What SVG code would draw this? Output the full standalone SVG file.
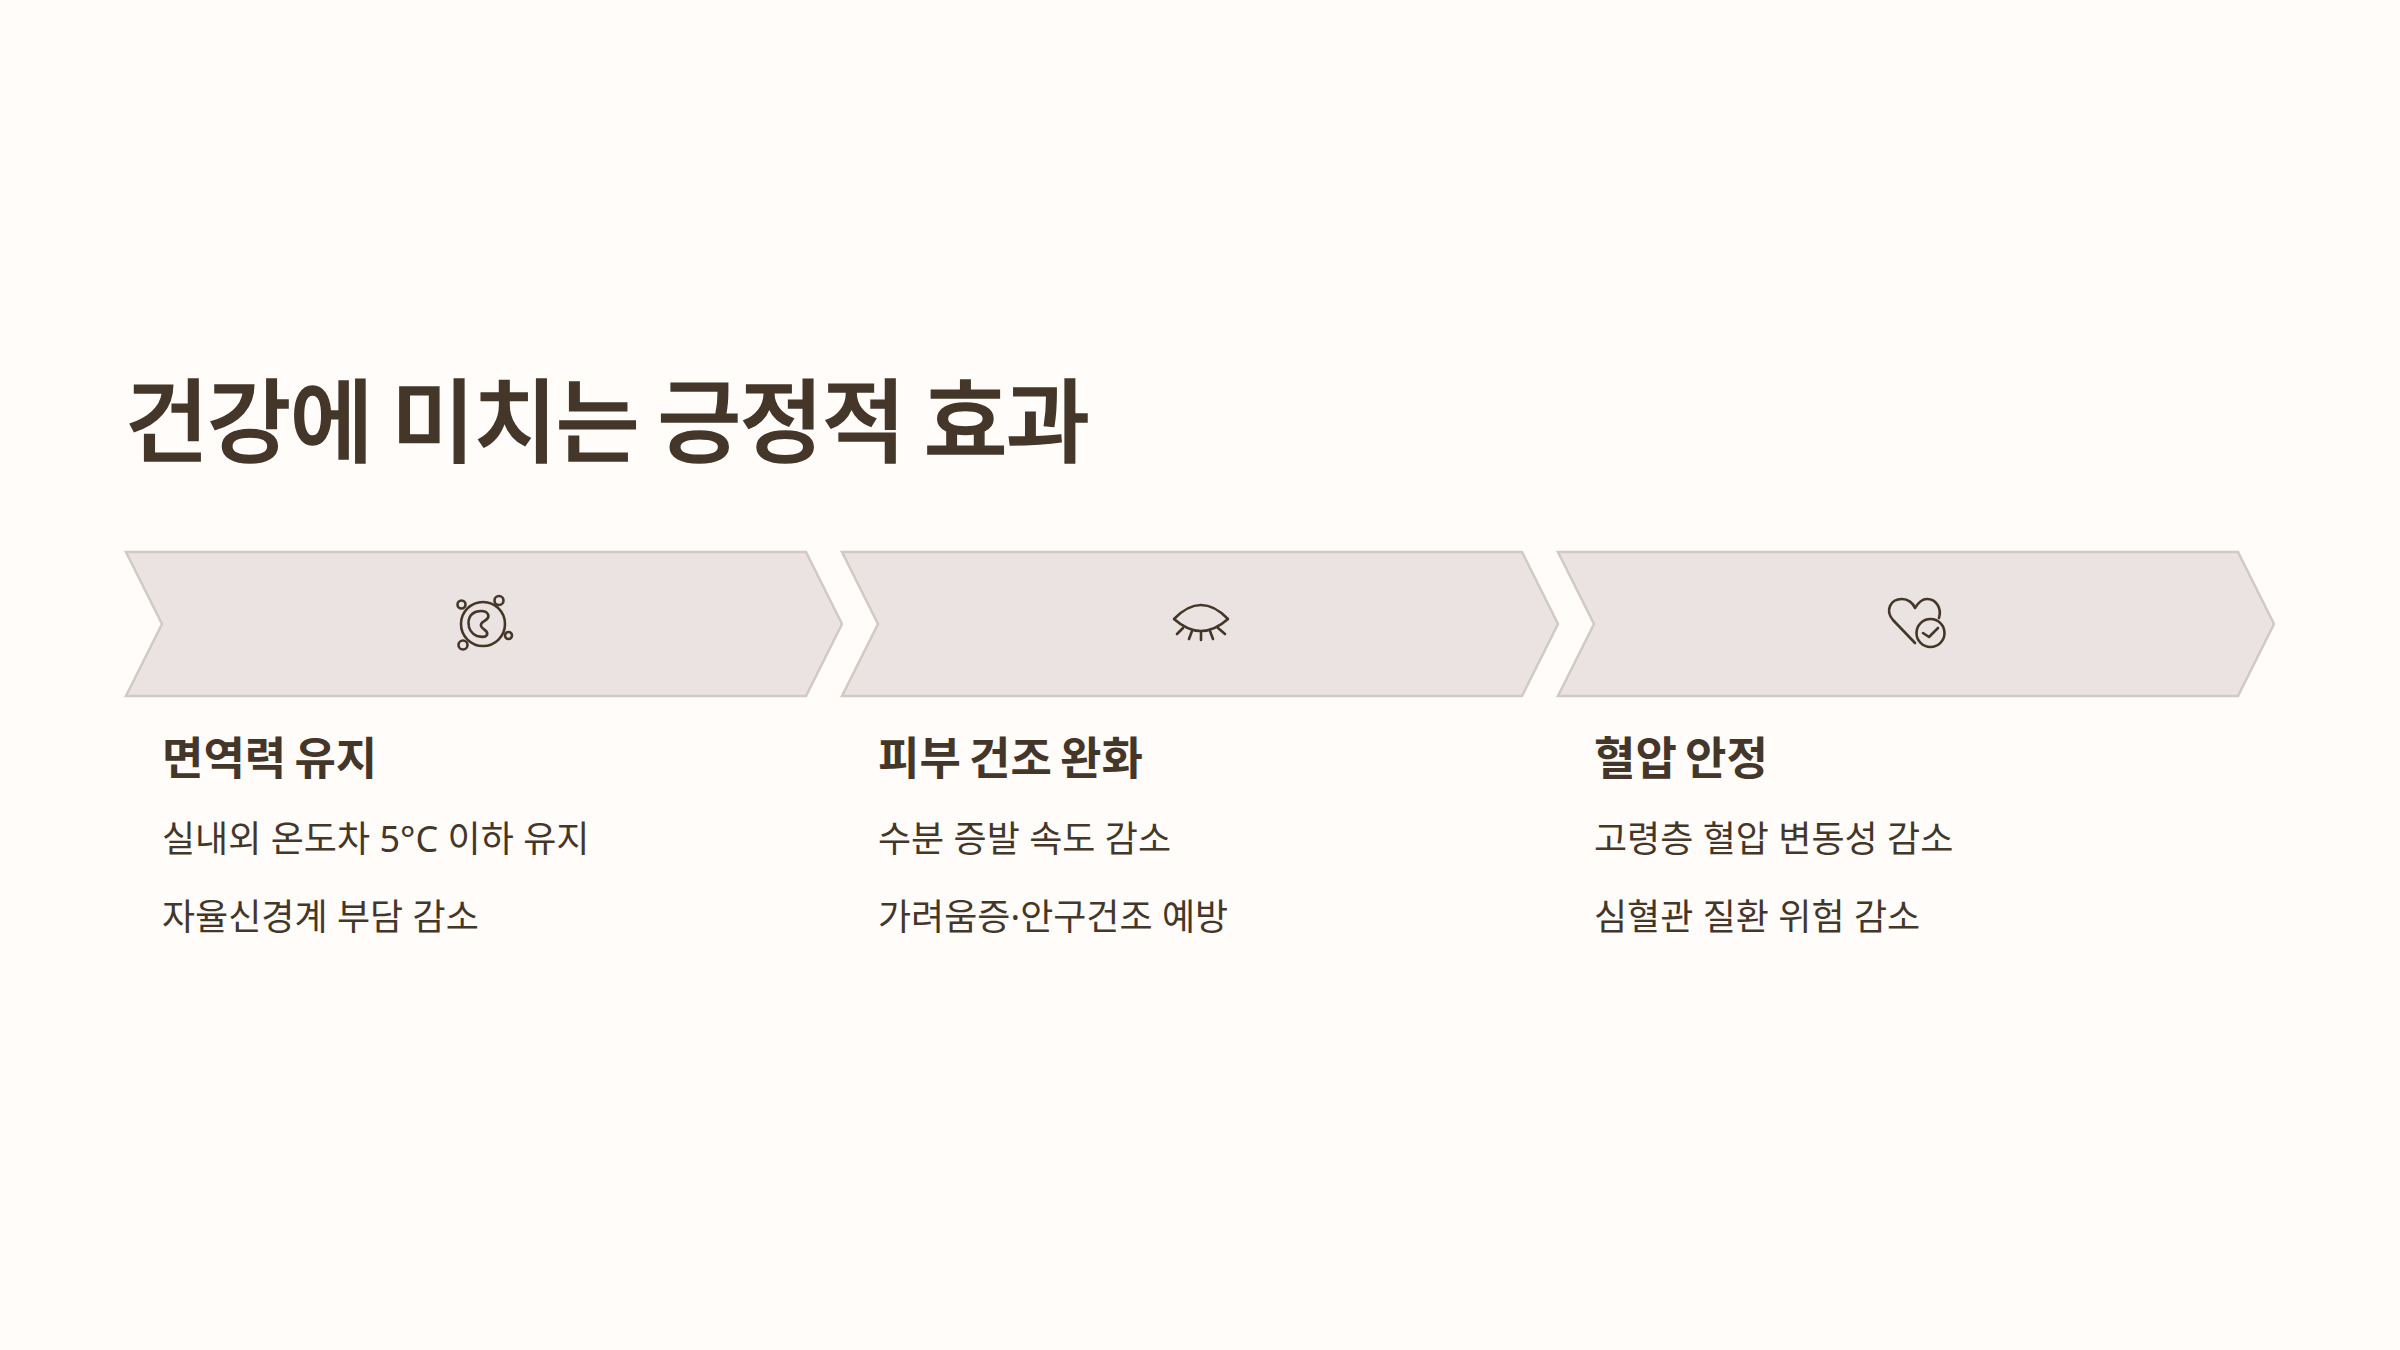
<svg xmlns="http://www.w3.org/2000/svg" width="2400" height="1350" viewBox="0 0 2400 1350">
<style>
text{font-family:"Noto Sans","Noto Sans CJK KR",sans-serif;fill:#44372a}
.t{font-size:91px;font-weight:500;letter-spacing:-1.400px;word-spacing:-3px;stroke:#44372a;stroke-width:1.500px}
.h{font-size:45px;font-weight:700;word-spacing:-3.500px}
.b{font-size:36px;font-weight:400}
.c{fill:#ebe3e1;stroke:#d2c8c6;stroke-width:2.5}
.i{fill:none;stroke:#44372a;stroke-width:2.600;stroke-linecap:round;stroke-linejoin:round}
</style>
<rect width="2400" height="1350" fill="#fffcf9"/>
<text id="title" class="t" x="125" y="455">건강에 미치는 긍정적 효과</text>
<g id="connectors"/>
<g id="node1">
<polygon class="c" points="126,552 806,552 842,624 806,696 126,696 162,624"/>
<g class="i"><circle cx="483" cy="624" r="22"/><circle cx="461.500" cy="604.500" r="4"/><circle cx="499" cy="600.500" r="4.500"/><circle cx="508.500" cy="635.500" r="3.500"/><circle cx="463" cy="645" r="4.500"/>
<path d="M468.500 623C468.500 615 474 611 481 611C488 611 490 616 487 619C484 622 480 622 481 626C482 630 489 630 487 635C485 638 481 637 477 636C472 634 468.500 629 468.500 623Z"/></g>
<text class="h" x="162" y="775">면역력 유지</text>
<text class="b" x="162" y="851.500">실내외 온도차 5°C 이하 유지</text>
<text class="b" x="162" y="929.500">자율신경계 부담 감소</text>
</g>
<g id="node2">
<polygon class="c" points="842,552 1522,552 1558,624 1522,696 842,696 878,624"/>
<g class="i"><path d="M1174 619Q1201 591 1228 619Q1201 643 1174 619Z"/><path d="M1183 628L1177 634M1192 631L1189 639M1201 632V640M1210 631L1213 639M1218 628L1225 634"/></g>
<text class="h" x="878" y="775">피부 건조 완화</text>
<text class="b" x="878" y="851.500">수분 증발 속도 감소</text>
<text class="b" x="878" y="929.500">가려움증·안구건조 예방</text>
</g>
<g id="node3">
<polygon class="c" points="1558,552 2238,552 2274,624 2238,696 1558,696 1594,624"/>
<g class="i"><path d="M1915 643L1893 620C1885 611 1890 599 1902 599C1908 599 1913 603 1915 608C1918 603 1922 599 1927 599C1936 599 1942 608 1939 618"/><circle cx="1930.500" cy="633" r="14"/><path d="M1923 633L1929 637L1938 628"/></g>
<text class="h" x="1594" y="775">혈압 안정</text>
<text class="b" x="1594" y="851.500">고령층 혈압 변동성 감소</text>
<text class="b" x="1594" y="929.500">심혈관 질환 위험 감소</text>
</g>
</svg>
